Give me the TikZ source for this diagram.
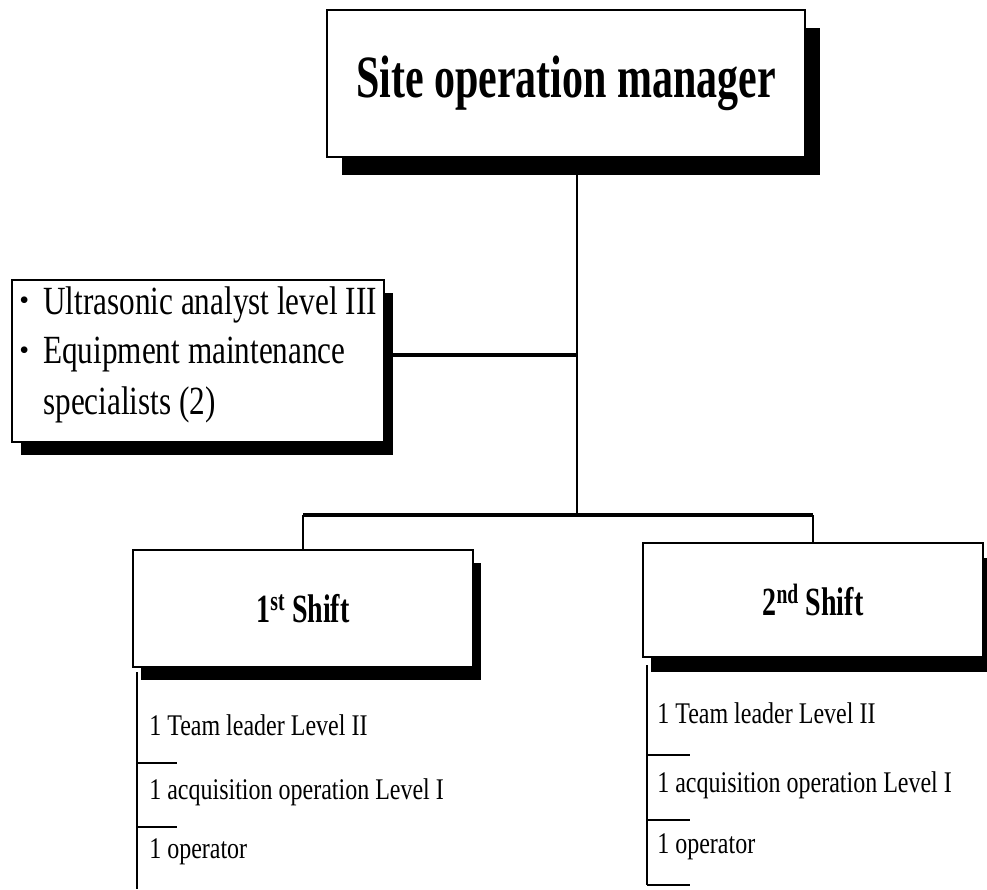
\documentclass[tikz,border=0pt]{standalone}
\usepackage{fontspec}
\setmainfont{Liberation Serif}
\usepackage{graphicx}
\usetikzlibrary{shadows}
\newcommand{\sqzT}[1]{\scalebox{0.7}[1]{#1}}
\newcommand{\sqzS}[1]{\scalebox{0.7}[1]{#1}}
\newcommand{\sqzL}[1]{\scalebox{0.78}[1]{#1}}
\newcommand{\sqzI}[1]{\scalebox{0.8}[1]{#1}}
\begin{document}
\begin{tikzpicture}[x=0.75pt,y=-0.75pt,
  box/.style={draw=black, line width=1.1pt, fill=white, inner sep=0pt, rectangle},
  titlefont/.style={font=\fontsize{45}{50}\selectfont\bfseries},
  shiftfont/.style={font=\fontsize{30}{34}\selectfont\bfseries},
  leftfont/.style={font=\fontsize{30}{34}\selectfont},
  itemfont/.style={font=\fontsize{22.5}{27}\selectfont},
  txt/.style={inner sep=0pt, anchor=west},
  trunk/.style={line width=1.6pt},
  bus/.style={line width=2.6pt},
  dropline/.style={line width=1.4pt},
  listline/.style={line width=0.9pt}
]
\useasboundingbox (0,0) rectangle (987,889);
\fill[white] (0,0) rectangle (987,889);

% boxes with shadows
\node[box, minimum width=358.5pt, minimum height=110.25pt, titlefont,
  drop shadow={shadow xshift=11pt, shadow yshift=-13.5pt, opacity=1, fill=black}]
  (top) at (566,83.5) {\raisebox{-6pt}{\sqzT{Site operation manager}}};

\node[box, minimum width=279pt, minimum height=121.5pt,
  drop shadow={shadow xshift=7pt, shadow yshift=-10pt, opacity=1, fill=black}]
  (left) at (198,361) {};

\node[box, minimum width=255pt, minimum height=87.75pt, shiftfont,
  drop shadow={shadow xshift=6pt, shadow yshift=-10pt, opacity=1, fill=black}]
  (box1) at (303,608.5) {\sqzS{1\textsuperscript{st} Shift}};

\node[box, minimum width=255pt, minimum height=85.5pt, shiftfont,
  drop shadow={shadow xshift=6pt, shadow yshift=-11pt, opacity=1, fill=black}]
  (box2) at (813,600) {\sqzS{2\textsuperscript{nd} Shift}};

% left box text
\node[txt, leftfont] (b1) at (19,303) {\scalebox{0.7}{\textbullet}};
\node[txt, leftfont] (u1) at (43,305) {\sqzL{Ultrasonic analyst level III}};
\node[txt, leftfont] (b2) at (19,353) {\scalebox{0.7}{\textbullet}};
\node[txt, leftfont] (u2) at (43,355) {\sqzL{Equipment maintenance}};
\node[txt, leftfont] (u3) at (43,405) {\sqzL{specialists (2)}};

% connectors
\coordinate (tj) at (577,355);
\coordinate (bj) at (577,515);
\draw[trunk] (top.south -| bj) -- (bj);
\draw[bus] (tj -| left.east) -- (tj);
\draw[bus] (bj -| box1.north) -- (bj -| box2.north);
\draw[dropline] (bj -| box1.north) -- (box1.north);
\draw[dropline] (bj -| box2.north) -- (box2.north);

% list 1
\node[txt, itemfont] (a1) at (149,725) {\sqzI{1 Team leader Level II}};
\node[txt, itemfont] (a2) at (149,792) {\sqzI{1 acquisition operation Level I}};
\node[txt, itemfont] (a3) at (149,852) {\sqzI{1 operator}};
\coordinate (l1top) at (137,672);
\coordinate (l1bot) at (137,889);
\draw[listline] (l1top) -- (l1bot);
\coordinate (s11) at (137,763);
\coordinate (s12) at (137,827);
\draw[listline] (s11) -- ++(40,0);
\draw[listline] (s12) -- ++(40,0);

% list 2
\node[txt, itemfont] (c1) at (657,713) {\sqzI{1 Team leader Level II}};
\node[txt, itemfont] (c2) at (657,785) {\sqzI{1 acquisition operation Level I}};
\node[txt, itemfont] (c3) at (657,847) {\sqzI{1 operator}};
\coordinate (l2top) at (647,665);
\coordinate (l2bot) at (647,885);
\draw[listline] (l2top) -- (l2bot);
\coordinate (s21) at (647,755);
\coordinate (s22) at (647,820);
\draw[listline] (s21) -- ++(43,0);
\draw[listline] (s22) -- ++(43,0);
\draw[listline] (l2bot) -- ++(43,0);
\end{tikzpicture}
\end{document}
